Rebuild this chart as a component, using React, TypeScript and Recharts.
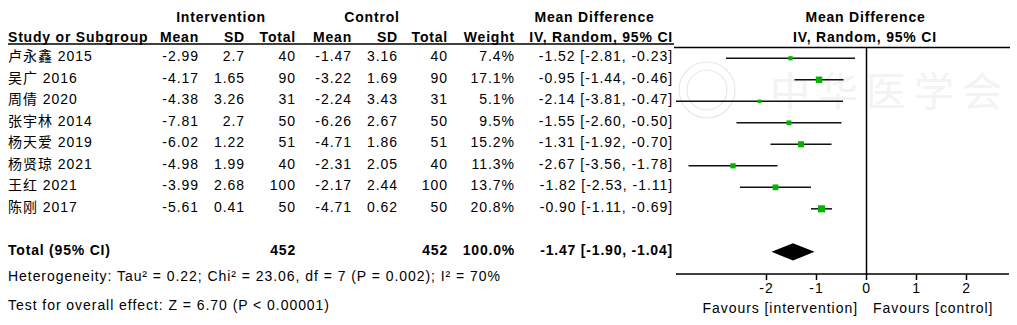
import {
  ErrorBar,
  ReferenceArea,
  ReferenceLine,
  Scatter,
  ScatterChart,
  XAxis,
  YAxis,
} from "recharts";

const studies = [
  "卢永鑫 2015",
  "吴广 2016",
  "周倩 2020",
  "张宇林 2014",
  "杨天爱 2019",
  "杨贤琼 2021",
  "王红 2021",
  "陈刚 2017",
];
const intMean = ["-2.99", "-4.17", "-4.38", "-7.81", "-6.02", "-4.98", "-3.99", "-5.61"];
const intSd = ["2.7", "1.65", "3.26", "2.7", "1.22", "1.99", "2.68", "0.41"];
const intTotal = [40, 90, 31, 50, 51, 40, 100, 50];
const ctrlMean = ["-1.47", "-3.22", "-2.24", "-6.26", "-4.71", "-2.31", "-2.17", "-4.71"];
const ctrlSd = ["3.16", "1.69", "3.43", "2.67", "1.86", "2.05", "2.44", "0.62"];
const ctrlTotal = [40, 90, 31, 50, 51, 40, 100, 50];
const weights = [7.4, 17.1, 5.1, 9.5, 15.2, 11.3, 13.7, 20.8];
const md = [-1.52, -0.95, -2.14, -1.55, -1.31, -2.67, -1.82, -0.9];
const ciLow = [-2.81, -1.44, -3.81, -2.6, -1.92, -3.56, -2.53, -1.11];
const ciHigh = [-0.23, -0.46, -0.47, -0.5, -0.7, -1.78, -1.11, -0.69];

const total = { md: -1.47, low: -1.9, high: -1.04, n1: 452, n2: 452, weight: "100.0%" };
const heterogeneity = "Heterogeneity: Tau² = 0.22; Chi² = 23.06, df = 7 (P = 0.002); I² = 70%";
const overallTest = "Test for overall effect: Z = 6.70 (P < 0.00001)";
const xTicks = [-2, -1, 0, 1, 2];
const rowTicks = [1, 2, 3, 4, 5, 6, 7, 8, 10];
const TOTAL_ROW = 10;

const FONT = "'Liberation Sans', Arial, 'Noto Sans CJK SC', sans-serif";
const FS = 14;

const fmt = (v: number) => v.toFixed(2);
const ciText = (m: number, l: number, h: number) => `${fmt(m)} [${fmt(l)}, ${fmt(h)}]`;

const points = studies.map((name, i) => ({
  name,
  md: md[i],
  y: i + 1,
  w: weights[i],
  err: [md[i] - ciLow[i], ciHigh[i] - md[i]],
}));

const T = ({ x, y, anchor = "start", bold = false, children }: any) => (
  <text
    x={x}
    y={y}
    textAnchor={anchor}
    fontFamily={FONT}
    fontSize={FS}
    fontWeight={bold ? "bold" : "normal"}
    letterSpacing={bold ? 0.8 : 0.95}
    fill="#000"
  >
    {children}
  </text>
);

// table rows are drawn as the y axis ticks, so they follow the row scale
const renderRow = (props: any) => {
  const v = props.payload?.value;
  const y = props.y + 3;
  if (v === TOTAL_ROW) {
    return (
      <g key={`row-${v}`}>
        <T x={8} y={y} bold>Total (95% CI)</T>
        <T x={296} y={y} anchor="end" bold>{total.n1}</T>
        <T x={448} y={y} anchor="end" bold>{total.n2}</T>
        <T x={515} y={y} anchor="end" bold>{total.weight}</T>
        <T x={673} y={y} anchor="end" bold>{ciText(total.md, total.low, total.high)}</T>
      </g>
    );
  }
  const i = v - 1;
  if (!(i >= 0 && i < studies.length)) return <g key={`row-${v}`} />;
  return (
    <g key={`row-${v}`}>
      <T x={8} y={y}>{studies[i]}</T>
      <T x={199} y={y} anchor="end">{intMean[i]}</T>
      <T x={245} y={y} anchor="end">{intSd[i]}</T>
      <T x={296} y={y} anchor="end">{intTotal[i]}</T>
      <T x={352} y={y} anchor="end">{ctrlMean[i]}</T>
      <T x={398} y={y} anchor="end">{ctrlSd[i]}</T>
      <T x={448} y={y} anchor="end">{ctrlTotal[i]}</T>
      <T x={515} y={y} anchor="end">{weights[i].toFixed(1)}%</T>
      <T x={673} y={y} anchor="end">{ciText(md[i], ciLow[i], ciHigh[i])}</T>
    </g>
  );
};

const renderAxisTick = (props: any) => (
  <g key={`xt-${props.payload?.value}`}>
    <T x={props.x} y={props.y + 11} anchor="middle">{props.payload?.value}</T>
  </g>
);

const Square = (props: any) => {
  const s = 1.55 * Math.sqrt(props.payload.w);
  return <rect x={props.cx - s / 2} y={props.cy - s / 2} width={s} height={s} fill="#00b400" />;
};

const Diamond = (props: any) => {
  const { x, y, width, height } = props;
  const cy = y + height / 2;
  const cx = x + width / 2;
  return (
    <polygon
      points={`${x},${cy} ${cx},${y} ${x + width},${cy} ${cx},${y + height}`}
      fill="#000"
    />
  );
};

export default function App() {
  return (
    <div style={{ position: "relative", width: 1017, height: 325, background: "#fff" }}>
      <style>{`body{margin:0}`}</style>
      <svg width={1017} height={325} style={{ position: "absolute", left: 0, top: 0 }}>
        <g fill="none" stroke="#e8e8e8" strokeWidth={1.2}>
          <circle cx={707} cy={90} r={28} />
          <circle cx={707} cy={90} r={20} />
        </g>
        <text x={770} y={106} fontFamily="'Noto Sans CJK SC'" fontSize={40} fill="#f3f3f3" letterSpacing={8}>
          中华医学会
        </text>
      </svg>
      <div style={{ position: "absolute", left: 0, top: 0 }}>
        <ScatterChart width={1017} height={325} margin={{ top: 47.5, right: 8, bottom: 21, left: 675 }}>
          <XAxis
            type="number"
            dataKey="md"
            domain={[-3.81, 2.85]}
            allowDataOverflow
            ticks={xTicks}
            interval={0}
            height={30}
            tickSize={6}
            axisLine={{ stroke: "#000", strokeWidth: 1.5 }}
            tickLine={{ stroke: "#000", strokeWidth: 1.5 }}
            tick={renderAxisTick}
          />
          <YAxis
            type="number"
            dataKey="y"
            domain={[0.5, 11.03]}
            allowDataOverflow
            reversed
            width={1}
            ticks={rowTicks}
            interval={0}
            axisLine={false}
            tickLine={false}
            tick={renderRow}
          />
          <ReferenceLine x={0} stroke="#000" strokeWidth={1.5} />
          <ReferenceArea
            x1={total.low}
            x2={total.high}
            y1={TOTAL_ROW - 0.4}
            y2={TOTAL_ROW + 0.4}
            shape={<Diamond />}
          />
          <Scatter data={points} shape={<Square />} isAnimationActive={false}>
            <ErrorBar dataKey="err" direction="x" width={0} stroke="#111" strokeWidth={1.5} />
          </Scatter>
        </ScatterChart>
      </div>
      <svg width={1017} height={325} style={{ position: "absolute", left: 0, top: 0, pointerEvents: "none" }}>
        <T x={221} y={22} anchor="middle" bold>Intervention</T>
        <T x={372} y={22} anchor="middle" bold>Control</T>
        <T x={594.5} y={22} anchor="middle" bold>Mean Difference</T>
        <T x={865.5} y={22} anchor="middle" bold>Mean Difference</T>
        <T x={8} y={41.5} bold>Study or Subgroup</T>
        <T x={199} y={41.5} anchor="end" bold>Mean</T>
        <T x={245} y={41.5} anchor="end" bold>SD</T>
        <T x={296} y={41.5} anchor="end" bold>Total</T>
        <T x={352} y={41.5} anchor="end" bold>Mean</T>
        <T x={398} y={41.5} anchor="end" bold>SD</T>
        <T x={448} y={41.5} anchor="end" bold>Total</T>
        <T x={515} y={41.5} anchor="end" bold>Weight</T>
        <T x={673} y={41.5} anchor="end" bold>IV, Random, 95% CI</T>
        <T x={865} y={41.5} anchor="middle" bold>IV, Random, 95% CI</T>
        <line x1={8} x2={674} y1={44} y2={44} stroke="#000" strokeWidth={1.5} />
        <line x1={674} x2={1010} y1={47.5} y2={47.5} stroke="#000" strokeWidth={1.5} />
        <T x={8} y={281}>{heterogeneity}</T>
        <T x={8} y={309.5}>{overallTest}</T>
        <T x={858} y={313} anchor="end">Favours [intervention]</T>
        <T x={873} y={313}>Favours [control]</T>
      </svg>
    </div>
  );
}
